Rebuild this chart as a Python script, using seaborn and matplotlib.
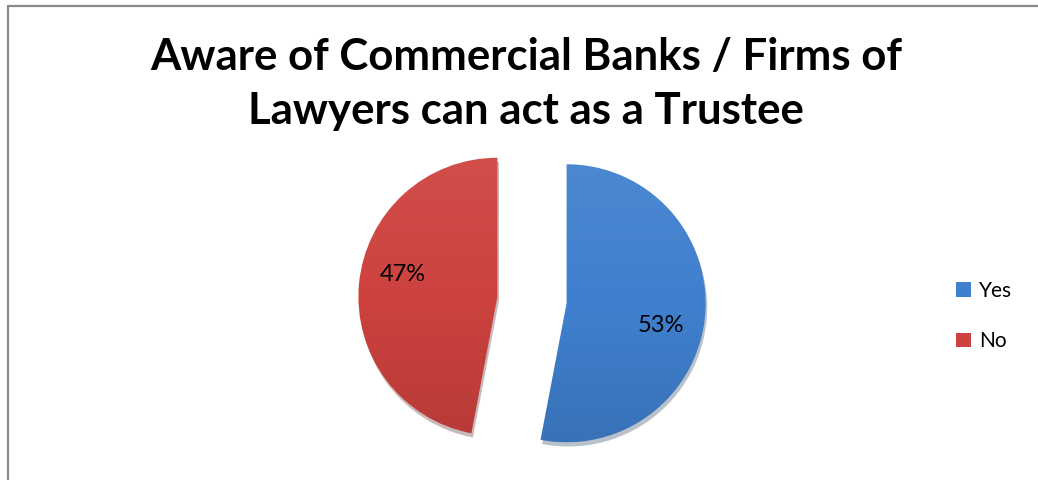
import matplotlib
matplotlib.use("Agg")
import numpy as np
import matplotlib.pyplot as plt
import seaborn as sns
from matplotlib.lines import Line2D

# Survey answers
categories = ["Yes", "No"]
shares = [53, 47]
colors = ["#3F80CE", "#CD423E"]
title = "Aware of Commercial Banks / Firms of\nLawyers can act as a Trustee"

sns.set_style("white")
plt.rcParams["font.family"] = ["Lato", "DejaVu Sans"]
plt.rcParams["text.color"] = "black"

W, H = 1038, 480
fig = plt.figure(figsize=(W / 100, H / 100), dpi=100)

# square axes sized so that one data unit equals the pie radius in pixels
r = 139
cx, cy = 532, 300
ax = fig.add_axes([(cx - 1.5 * r) / W, (H - cy - 1.5 * r) / H, 3 * r / W, 3 * r / H])

wedges, texts, autotexts = ax.pie(
    shares,
    colors=colors,
    startangle=90,
    counterclock=False,
    explode=[0.25, 0.25],
    autopct="%.0f%%",
    pctdistance=0.7,
    textprops=dict(fontsize=17, color="black"),
    shadow=dict(ox=0.008, oy=-0.022, shade=0.6, alpha=0.3),
    wedgeprops=dict(linewidth=0),
)
ax.set_axis_off()

# soft vertical shading on each wedge: slightly lighter at the top, darker at the bottom
ramp = np.linspace(1, -1, 256)
shade = np.zeros((256, 1, 4))
shade[..., :3] = np.where(ramp[:, None, None] > 0, 1.0, 0.0)
shade[..., 3] = (np.where(ramp > 0, 0.07, 0.11) * np.abs(ramp))[:, None]
for w in wedges:
    x0, y0 = w.center
    im = ax.imshow(shade, extent=(x0 - 1, x0 + 1, y0 - 1, y0 + 1),
                   aspect="auto", zorder=w.get_zorder() + 0.1,
                   interpolation="bilinear")
    im.set_clip_path(w)
ax.set_xlim(-1.5, 1.5)
ax.set_ylim(-1.5, 1.5)

# percentage labels sit slightly clockwise of each wedge's bisector
for w, t in zip(wedges, autotexts):
    mid = np.deg2rad((w.theta1 + w.theta2) / 2 - 8)
    x0, y0 = w.center
    t.set_position((x0 + 0.70 * np.cos(mid), y0 + 0.70 * np.sin(mid)))
    t.set_ha("center")
    t.set_va("center")
    t.set_zorder(5)

fig.text(0.507, 1 - 37 / H, title, ha="center", va="top",
         fontsize=31.5, fontweight="bold", linespacing=1.42, color="black")

fig.legend(wedges, categories, loc="center left",
           bbox_to_anchor=(946 / W, 1 - 316 / H), frameon=False,
           fontsize=15, handlelength=0.7, handleheight=0.7,
           handletextpad=0.4, labelspacing=1.45, borderpad=0)

# chart area outline (top and left edges)
border = dict(transform=fig.transFigure, color="#8a8a8a", lw=1.6)
fig.add_artist(Line2D([8 / W, 1], [1 - 5.5 / H] * 2, **border))
fig.add_artist(Line2D([8 / W] * 2, [1 - 5.5 / H, 0], **border))

fig.savefig("out.png", dpi=100)
